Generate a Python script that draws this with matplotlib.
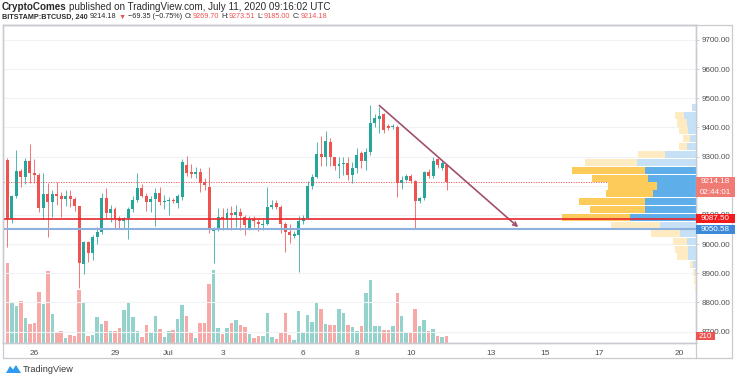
import numpy as np
import pandas as pd
import matplotlib
matplotlib.use('Agg')
import matplotlib.pyplot as plt
import matplotlib.dates as mdates
import matplotlib.transforms as mtransforms
from matplotlib.patches import Rectangle, Polygon
from matplotlib.lines import Line2D

plt.rcParams['font.family'] = ['Liberation Sans', 'DejaVu Sans']

# ==========================
#   BITSTAMP:BTCUSD, 4h
# ==========================
start = '2020-06-25 00:00'

opens = [9289, 9087, 9165, 9251, 9230, 9285, 9244, 9237, 9124, 9172,
         9145, 9172, 9165, 9155, 9165, 9153, 9130, 8932, 9007, 8970,
         9024, 9042, 9158, 9107, 9120, 9088, 9080, 9088, 9120, 9151,
         9193, 9165, 9145, 9155, 9175, 9143, 9147, 9152, 9140, 9160,
         9272, 9246, 9240, 9246, 9212, 9196, 9045, 9052, 9093, 9085,
         9105, 9100, 9110, 9093, 9055, 9085, 9075, 9065, 9070, 9127,
         9140, 9128, 9068, 9040, 9028, 9030, 9080, 9090, 9199, 9230,
         9308, 9300, 9350, 9297, 9266, 9275, 9277, 9237, 9260, 9311,
         9285, 9317, 9414, 9430, 9445, 9405, 9400, 9403, 9209, 9220,
         9235, 9217, 9148, 9157, 9246, 9232, 9292, 9262, 9269.70]
highs = [9295, 9170, 9323, 9258, 9295, 9343, 9290, 9244, 9244, 9210,
         9186, 9213, 9180, 9186, 9186, 9160, 9132, 9012, 9012, 9030,
         9060, 9175, 9193, 9134, 9128, 9095, 9092, 9126, 9165, 9244,
         9205, 9175, 9165, 9193, 9196, 9170, 9160, 9158, 9172, 9290,
         9302, 9275, 9265, 9262, 9225, 9265, 9060, 9124, 9124, 9124,
         9130, 9135, 9125, 9100, 9095, 9095, 9085, 9085, 9196, 9151,
         9151, 9135, 9075, 9070, 9045, 9095, 9100, 9215, 9240, 9350,
         9369, 9386, 9363, 9300, 9300, 9300, 9300, 9280, 9329, 9320,
         9330, 9477, 9445, 9471, 9449, 9410, 9410, 9409, 9235, 9240,
         9240, 9220, 9160, 9250, 9258, 9300, 9295, 9285, 9273.51]
lows = [8990, 9073, 9158, 9196, 9206, 9210, 9210, 9110, 9086, 9025,
        9093, 9134, 9093, 9130, 9127, 9113, 8850, 8898, 8940, 8946,
        9000, 9035, 9090, 9076, 9055, 9055, 9055, 9018, 9110, 9145,
        9160, 9114, 9110, 9062, 9135, 9120, 9100, 9140, 9125, 9150,
        9235, 9225, 9225, 9179, 9185, 9038, 8935, 9045, 9050, 9055,
        9050, 9060, 9050, 9031, 9050, 9060, 9045, 9050, 9065, 9120,
        9120, 9038, 8973, 9005, 9020, 8905, 9070, 9085, 9190, 9225,
        9266, 9266, 9266, 9254, 9226, 9237, 9220, 9209, 9243, 9260,
        9255, 9306, 9400, 9380, 9380, 9390, 9395, 9163, 9190, 9215,
        9210, 9054, 9140, 9150, 9225, 9225, 9262, 9255, 9185.00]
closes = [9087, 9165, 9251, 9230, 9285, 9244, 9238, 9124, 9172, 9145,
          9172, 9165, 9155, 9165, 9153, 9130, 8935, 9007, 8970, 9024,
          9042, 9158, 9107, 9120, 9086, 9080, 9088, 9120, 9151, 9193,
          9165, 9145, 9155, 9175, 9143, 9147, 9152, 9147, 9165, 9280,
          9244, 9240, 9246, 9210, 9203, 9049, 9052, 9093, 9085, 9105,
          9100, 9110, 9095, 9065, 9085, 9078, 9068, 9070, 9127, 9135,
          9128, 9070, 9040, 9032, 9035, 9080, 9090, 9199, 9230, 9308,
          9300, 9352, 9297, 9266, 9275, 9278, 9237, 9260, 9306, 9285,
          9317, 9414, 9431, 9440, 9391, 9397, 9406, 9209, 9220, 9235,
          9217, 9148, 9157, 9246, 9232, 9286, 9272, 9277, 9214.18]
volumes = [80, 40, 37, 42, 25, 19, 20, 51, 39, 72,
           29, 11, 12, 5, 8, 7, 53, 40, 7, 8,
           26, 19, 22, 12, 12, 15, 33, 41, 26, 12,
           6, 18, 10, 27, 14, 6, 12, 13, 24, 38,
           27, 10, 5, 20, 20, 59, 73, 15, 9, 15,
           20, 23, 18, 16, 9, 5, 7, 7, 30, 6,
           4, 11, 30, 8, 3, 32, 10, 28, 21, 40,
           34, 19, 18, 18, 34, 30, 18, 16, 12, 17,
           50, 63, 17, 17, 13, 13, 17, 50, 27, 10,
           11, 34, 17, 23, 12, 14, 7, 6, 7]
volume_label = '210'

# visible-range volume profile, rows from top (price) to bottom
vp_top = 9469
vp_step = 27
vp_total = [3.7, 21, 19.3, 16.7, 13.3, 16.7, 57.7, 111, 124.3, 104.3, 87.7, 90,
            117, 106, 133.7, 85.3, 45.3, 23.3, 21, 19.3, 6, 3.3, 2, 1.5]
vp_up = [3.7, 12, 9.3, 7.7, 6, 9.3, 31, 59.3, 51, 47.7, 38.7, 42.7,
         51, 51, 66, 36, 16, 9.3, 7.7, 7.7, 2.7, 1, 0.5, 0]
vp_value_area = [False] * 8 + [True] * 7 + [False] * 9

last_price = 9214.18
countdown = '02:44:01'
red_level = 9087.50
blue_level = 9050.58
trend_t = ['2020-07-08 20:00', '2020-07-14 00:00']
trend_p = [9475, 9058]

date_ticks = ['2020-06-26', '2020-06-29', '2020-07-01', '2020-07-03', '2020-07-06',
              '2020-07-08', '2020-07-10', '2020-07-13', '2020-07-15', '2020-07-17',
              '2020-07-20']
date_labels = ['26', '29', 'Jul', '3', '6', '8', '10', '13', '15', '17', '20']
price_ticks = [8700, 8800, 8900, 9000, 9100, 9200, 9300, 9400, 9500, 9600, 9700]
hidden_ticks = [9200]   # covered by the last-price label

# ==========================
#        Plotting
# ==========================
W, H = 736, 379
UP, DN = '#26A69A', '#EF5350'
UPV, DNV = '#93D3CC', '#F6A9A7'
GRID = '#F0F2F6'
FRAME = '#C9CBD0'
TXT = '#505050'

fig = plt.figure(figsize=(W / 100, H / 100), dpi=100)
fig.patch.set_facecolor('white')

L, R, T, B = 3, 696, 25, 343
rect = [L / W, 1 - B / H, (R - L) / W, (B - T) / H]

ax2 = fig.add_axes(rect)           # volume
ax = ax2.twinx()                   # candles (price)
ax3 = ax.twiny()                   # volume profile + levels
ax2.set_zorder(1)
ax.set_zorder(2)
ax3.set_zorder(3)
ax.patch.set_visible(False)
ax3.patch.set_visible(False)

t = mdates.date2num(pd.date_range(start, periods=len(opens), freq='4h'))
o, h, l, c = map(np.array, (opens, highs, lows, closes))
up = c >= o
col = np.where(up, UP, DN)

# volume
ax2.bar(t, volumes, width=0.13, color=np.where(up, UPV, DNV), linewidth=0)
ax2.set_ylim(0, B - T)
ax2.set_yticks([])

# candles
ax.vlines(t, l, h, colors=col, linewidth=0.7, alpha=0.8)
body = np.maximum(np.abs(c - o), 3)
ax.bar(t, body, bottom=np.minimum(o, c), width=0.11, color=col, linewidth=0)

ax.set_xlim(mdates.date2num(pd.Timestamp('2020-06-24 20:00')),
            mdates.date2num(pd.Timestamp('2020-07-20 14:44')))
ax.set_ylim(8661, 9751)

ax.grid(True, color=GRID, linewidth=0.8)
ax.set_axisbelow(True)
ax.yaxis.tick_right()
ax.set_yticks(price_ticks)
ax.set_yticklabels(['' if p in hidden_ticks else '%.2f' % p for p in price_ticks])
ax.tick_params(axis='y', length=2, width=0.6, color=FRAME, pad=2,
               labelsize=5.8, labelcolor=TXT)
ax2.set_xticks(mdates.date2num(pd.to_datetime(date_ticks)))
ax2.set_xticklabels(date_labels)
ax2.tick_params(axis='x', length=0, pad=5, labelsize=6, labelcolor=TXT)
ax2.grid(False)
ax.set_xticks(mdates.date2num(pd.to_datetime(date_ticks)))
ax.tick_params(axis='x', length=0, labelbottom=False)

for a in (ax, ax2, ax3):
    for s in a.spines.values():
        s.set_color(FRAME)
        s.set_linewidth(0.9)

# last price dotted line
ax.axhline(last_price, color=DN, linewidth=0.6, linestyle=(0, (1.5, 1.5)))

# trend line
ax.annotate('', xy=(mdates.date2num(pd.Timestamp(trend_t[1])), trend_p[1]),
            xytext=(mdates.date2num(pd.Timestamp(trend_t[0])), trend_p[0]),
            arrowprops=dict(arrowstyle='->', color='#A0506E', lw=1.2,
                            mutation_scale=7, shrinkA=0, shrinkB=0))

# volume profile
rows = vp_top - vp_step * np.arange(len(vp_total))
tot = np.array(vp_total)
upv = np.array(vp_up)
va = np.array(vp_value_area)
ax3.set_xlim(R - L, 0)
ax3.barh(rows, upv, height=vp_step * 0.9, left=0,
         color=np.where(va, '#5EAEEA', '#C6E1F6'), linewidth=0)
ax3.barh(rows, tot - upv, height=vp_step * 0.9, left=upv,
         color=np.where(va, '#FCCB5A', '#FEEBC2'), linewidth=0)
ax3.set_xticks([])
ax3.tick_params(axis='x', length=0, labeltop=False)

# support levels
ax3.axhline(red_level, color='#E8262B', linewidth=1.2)
ax3.axhline(blue_level, color='#8BB1DC', linewidth=1.5)

# price labels on the scale
tr = mtransforms.blended_transform_factory(ax3.transAxes, ax.transData)
px = (ax.get_ylim()[1] - ax.get_ylim()[0]) / (B - T)   # price per pixel
bw = 39 / (R - L)


def scale_box(yc, hpx, color):
    ax3.add_patch(Rectangle((1.0, yc - hpx * px / 2), bw, hpx * px,
                            transform=tr, facecolor=color, edgecolor='none',
                            clip_on=False, zorder=5))


def scale_text(y, s):
    ax3.text(1.0 + bw / 2, y, s, transform=tr, ha='center', va='center',
             color='white', fontsize=5.8, clip_on=False, zorder=6)


scale_box(last_price - 5.2 * px, 20, '#F07A74')
scale_text(last_price, '%.2f' % last_price)
scale_text(last_price - 10.5 * px, countdown)
scale_box(red_level, 9, '#F21C1C')
scale_text(red_level, '%.2f' % red_level)
scale_box(blue_level, 9, '#3F8AD8')
scale_text(blue_level, '%.2f' % blue_level)

trv = mtransforms.blended_transform_factory(ax3.transAxes, ax2.transData)
ax3.add_patch(Rectangle((1.0, volumes[-1] - 4), 19 / (R - L), 8, transform=trv,
                        facecolor='#EF5350', edgecolor='none', clip_on=False, zorder=5))
ax3.text(1.0 + 9.5 / (R - L), volumes[-1], volume_label, transform=trv, ha='center',
         va='center', color='white', fontsize=5.8, clip_on=False, zorder=6)

# outer frame
for xs, ys in [((L, 732), (T, T)), ((732, 732), (T, 358)), ((L, 732), (358, 358)),
               ((L, L), (B, 358)), ((R, R), (B, 358))]:
    fig.add_artist(Line2D([x / W for x in xs], [1 - y / H for y in ys],
                          color=FRAME, linewidth=0.9))

# header, fitted to the width it takes in the chart
fig.canvas.draw()
rend = fig.canvas.get_renderer()


def text_row(ypx, parts, x_end, size):
    def place(sz, keep):
        x, made = 2, []
        for s, color, weight, gap in parts:
            tt = fig.text(x / W, 1 - ypx / H, s, fontsize=sz, color=color,
                          fontweight=weight, ha='left', va='center')
            made.append(tt)
            x += tt.get_window_extent(renderer=rend).width + gap
        if not keep:
            for tt in made:
                tt.remove()
        return x
    gaps = sum(p[3] for p in parts)
    w = place(size, False) - 2 - gaps
    place(size * (x_end - 2 - gaps) / w, True)


DK = '#2A2A2A'
text_row(7, [('CryptoComes', DK, 'bold', 2.5),
             ('published on TradingView.com, July 11, 2020 09:16:02 UTC', DK, 'normal', 0)],
         330, 6.5)
text_row(17, [('BITSTAMP:BTCUSD, 240', DK, 'bold', 2.5),
              ('9214.18', DK, 'normal', 2),
              ('▼', DN, 'normal', 2),
              ('−69.35 (−0.75%)', DK, 'normal', 2.5),
              ('O:', DK, 'normal', 0.3), ('9269.70', DN, 'normal', 2.5),
              ('H:', DK, 'normal', 0.3), ('9273.51', DN, 'normal', 2.5),
              ('L:', DK, 'normal', 0.3), ('9185.00', DN, 'normal', 2.5),
              ('C:', DK, 'normal', 0.3), ('9214.18', DN, 'normal', 0)],
         326, 6.5)

# footer logo
logo = [(6, 373), (10, 366), (13, 369.5), (16, 365), (21, 373)]
fig.add_artist(Polygon([(x / W, 1 - y / H) for x, y in logo], closed=True,
                       facecolor='#2E9BF0', edgecolor='none'))
fig.text(23 / W, 1 - 369 / H, 'TradingView', fontsize=6.6, color='#3A3A3A',
         ha='left', va='center')

fig.savefig('out.png', dpi=100)
